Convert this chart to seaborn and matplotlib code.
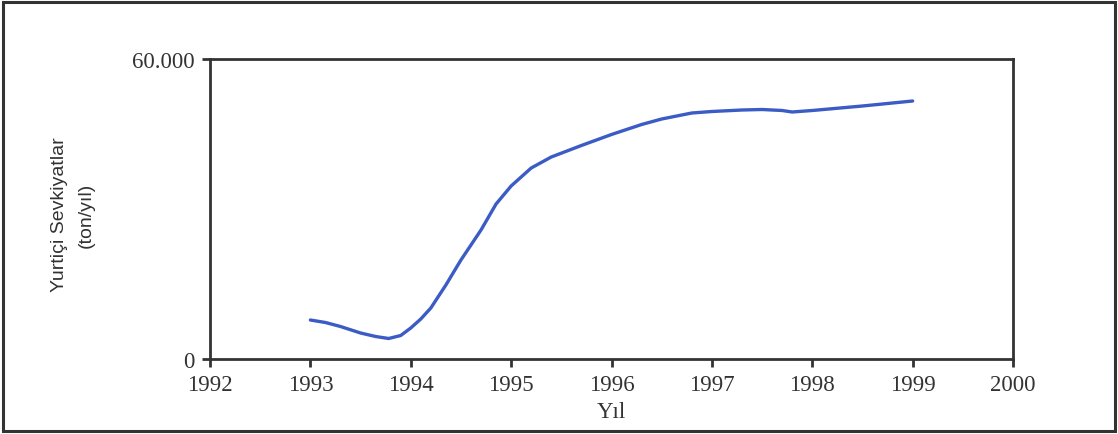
import matplotlib
matplotlib.use("Agg")
import matplotlib.pyplot as plt
import matplotlib.patches as mpatches
import seaborn as sns
import pandas as pd

years = [1993.0, 1993.15, 1993.3, 1993.5, 1993.65, 1993.78, 1993.9, 1994.0, 1994.1, 1994.2,
         1994.35, 1994.5, 1994.7, 1994.85, 1995.0, 1995.2, 1995.4, 1995.7, 1996.0, 1996.3,
         1996.5, 1996.8, 1997.0, 1997.3, 1997.5, 1997.7, 1997.8, 1998.0, 1998.5, 1999.0]
shipments = [7800, 7300, 6500, 5200, 4500, 4100, 4700, 6200, 8000, 10200,
             14800, 19800, 25800, 31000, 34600, 38200, 40400, 42700, 44900, 46900,
             48000, 49200, 49500, 49800, 49900, 49700, 49400, 49700, 50600, 51600]
x_ticks = [1992, 1993, 1994, 1995, 1996, 1997, 1998, 1999, 2000]
y_ticks = [0, 60000]
y_tick_labels = ["0", "60.000"]

df = pd.DataFrame({"Yıl": years, "Sevkiyat": shipments})

sns.set_theme(style="white")
plt.rcParams["font.family"] = ["Liberation Serif", "DejaVu Serif"]

fig = plt.figure(figsize=(11.18, 4.35), dpi=100)
ax = fig.add_axes([210 / 1118, 75 / 435, 803 / 1118, 300 / 435])

sns.lineplot(data=df, x="Yıl", y="Sevkiyat", ax=ax, color="#3a5cc4", linewidth=2.4,
             sort=False, estimator=None)

ax.set_xlim(1992, 2000)
ax.set_ylim(0, 60000)
ax.set_xticks(x_ticks)
ax.set_xticklabels([str(t) for t in x_ticks], fontsize=16.5, color="#333333")
ax.set_yticks(y_ticks)
ax.set_yticklabels(y_tick_labels, fontsize=16.5, color="#333333")
ax.tick_params(axis="both", direction="out", length=6, width=2, color="#333333",
               bottom=True, left=True, pad=5)

for s in ax.spines.values():
    s.set_color("#333333")
    s.set_linewidth(2)
    s.set_visible(True)

ax.set_xlabel("Yıl", fontsize=16.5, color="#333333", labelpad=4)
ax.set_ylabel("Yurtiçi Sevkiyatlar\n(ton/yıl)", fontsize=14, color="#333333",
              family=["Liberation Sans", "DejaVu Sans"], linespacing=1.8)
ax.yaxis.set_label_coords(-0.1706, 0.483)
ax.yaxis.label.set_verticalalignment("center")

fig.patches.append(mpatches.Rectangle((3 / 1118, 3 / 435), 1112 / 1118, 429 / 435,
                                      transform=fig.transFigure, fill=False,
                                      edgecolor="#333333", linewidth=2.2))

fig.savefig("out.png", dpi=100, facecolor="white")
